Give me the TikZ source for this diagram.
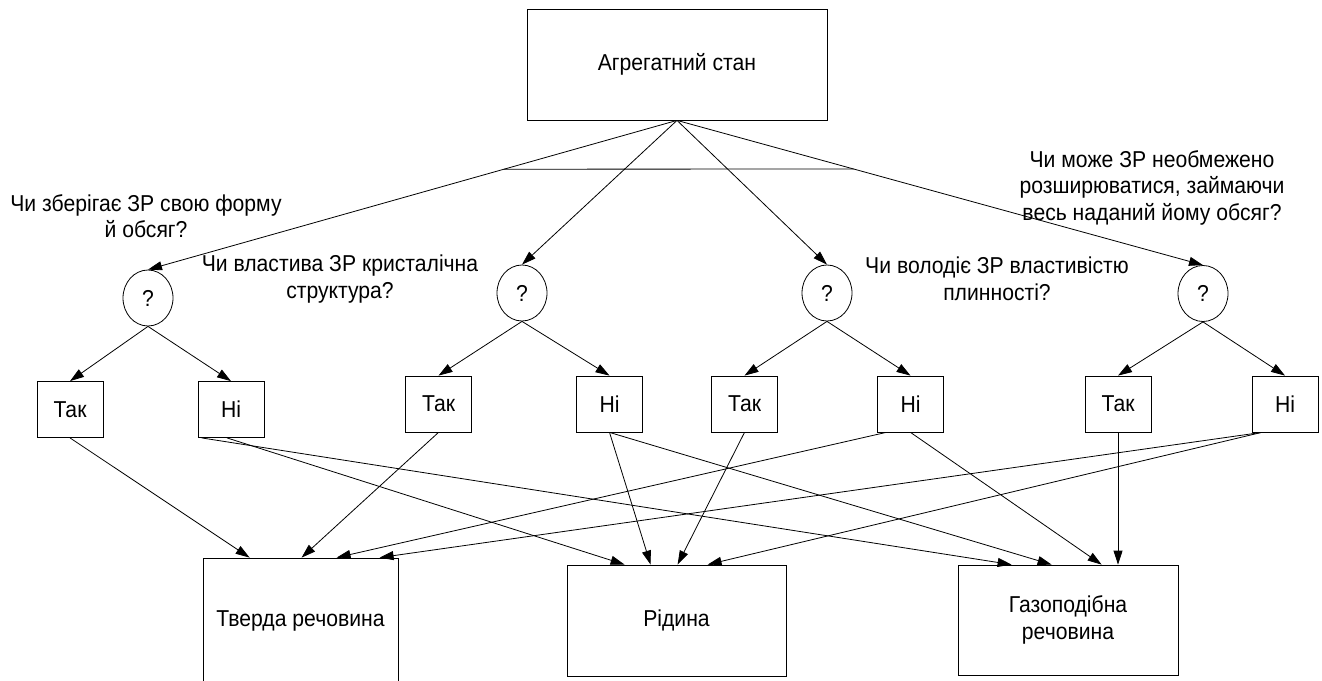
\documentclass[tikz,border=0pt]{standalone}
\usepackage{fontspec}
\setmainfont{Liberation Sans}[FakeStretch=0.92]
\usetikzlibrary{arrows.meta,calc,shapes.geometric}

\begin{document}
\begin{tikzpicture}[x=1pt,y=-1pt,
  every node/.style={font=\fontsize{23}{26.5}\selectfont, inner sep=0pt},
  bigbox/.style={draw, line width=0.8pt, align=center},
  answer/.style={draw, line width=0.8pt, minimum width=66pt, minimum height=56pt},
  quest/.style={draw, ellipse, line width=0.8pt, minimum width=50pt, minimum height=56pt},
  qtext/.style={anchor=base},
  link/.style={line width=0.8pt, -{Triangle[length=14pt,width=9pt]}},
  bar/.style={line width=0.8pt}]

\useasboundingbox (0,0) rectangle (1322,680);

% root
\node[bigbox, minimum width=300pt, minimum height=111pt] (top) at (677,64.5) {Агрегатний стан};

% question nodes
\node[quest] (q1) at (148,298) {?};
\node[quest] (q2) at (522,293) {?};
\node[quest] (q3) at (827,293) {?};
\node[quest] (q4) at (1203,293.5) {?};

% answers
\node[answer] (tak1) at (70,409.5) {Так};
\node[answer] (ni1) at (231,409.5) {Ні};
\node[answer] (tak2) at (438.5,404) {Так};
\node[answer] (ni2) at (609.5,404) {Ні};
\node[answer] (tak3) at (744.5,404) {Так};
\node[answer] (ni3) at (910.5,404) {Ні};
\node[answer] (tak4) at (1118,404) {Так};
\node[answer] (ni4) at (1285,404) {Ні};

% states of matter
\node[bigbox, minimum width=195pt, minimum height=126pt] (solid) at (300.5,621) {Тверда речовина};
\node[bigbox, minimum width=219pt, minimum height=111pt] (liquid) at (676.5,620.5) {Рідина};
\node[bigbox, minimum width=220pt, minimum height=110pt] (gas) at (1068,620) {Газоподібна\\речовина};

% question texts
\node[qtext] (t1a) at (146,211) {Чи зберігає ЗР свою форму};
\node[qtext] (t1b) at (146,237) {й обсяг?};
\node[qtext] (t2a) at (340,271) {Чи властива ЗР кристалічна};
\node[qtext] (t2b) at (340,298) {структура?};
\node[qtext] (t3a) at (997,273) {Чи володіє ЗР властивістю};
\node[qtext] (t3b) at (997,300) {плинності?};
\node[qtext] (t4a) at (1152,167) {Чи може ЗР необмежено};
\node[qtext] (t4b) at (1152,193) {розширюватися, займаючи};
\node[qtext] (t4c) at (1152,220) {весь наданий йому обсяг?};

% root to questions
\draw[link] (top.south) -- (q1.north);
\draw[link] (top.south) -- (q2.north);
\draw[link] (top.south) -- (q3.north);
\draw[link] (top.south) -- (q4.north);
\coordinate (barL) at ($(top.south)!0.327!(q1.north)$);
\coordinate (barR) at ($(top.south)!0.336!(q4.north)$);
\draw[bar] (barL) -- (barR);

% questions to answers
\draw[link] (q1.south) -- (tak1.north);
\draw[link] (q1.south) -- (ni1.north);
\draw[link] (q2.south) -- (tak2.north);
\draw[link] (q2.south) -- (ni2.north);
\draw[link] (q3.south) -- (tak3.north);
\draw[link] (q3.south) -- (ni3.north);
\draw[link] (q4.south) -- (tak4.north);
\draw[link] (q4.south) -- (ni4.north);

% answers to states
\draw[link] (tak1.south) -- ($(solid.north west)+(47,0)$);
\draw[link] (tak2.south) -- ($(solid.north west)+(99,0)$);
\draw[link] ($(ni3.south west)+(9,0)$) -- ($(solid.north west)+(134,0)$);
\draw[link] ($(ni4.south west)+(10,0)$) -- ($(solid.north west)+(177,0)$);

\draw[link] ($(ni1.south)+(-4,0)$) -- ($(liquid.north west)+(58,0)$);
\draw[link] (ni2.south) -- ($(liquid.north west)+(84,0)$);
\draw[link] (tak3.south) -- ($(liquid.north west)+(111,0)$);
\draw[link] ($(ni4.south west)+(10,0)$) -- ($(liquid.north west)+(141,0)$);

\draw[link] ($(ni1.south west)+(4,0)$) -- ($(gas.north west)+(54,0)$);
\draw[link] (ni2.south) -- ($(gas.north west)+(94,0)$);
\draw[link] (ni3.south) -- ($(gas.north west)+(144,0)$);
\draw[link] (tak4.south) -- (tak4.south |- gas.north);

\end{tikzpicture}
\end{document}
